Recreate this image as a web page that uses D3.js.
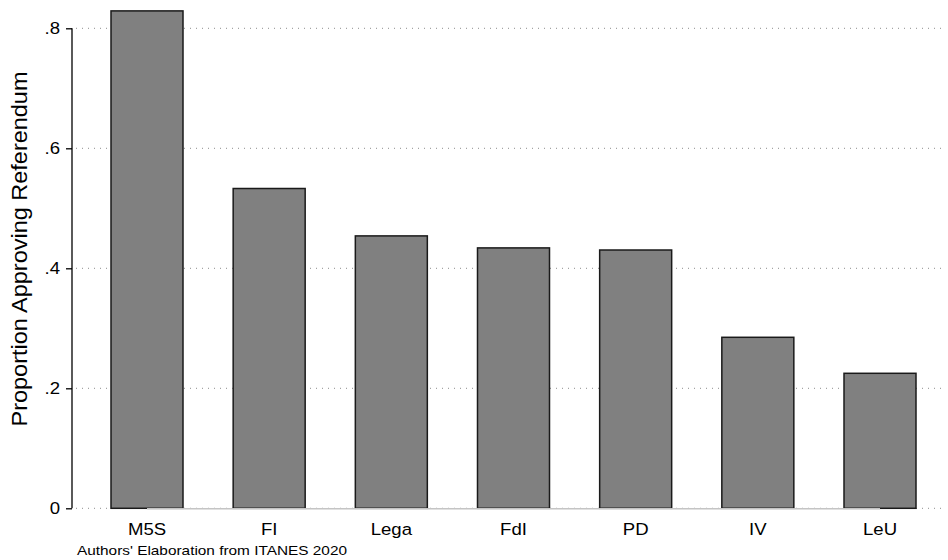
<!DOCTYPE html>
<html><head><meta charset="utf-8">
<script src="https://cdn.jsdelivr.net/npm/d3@7"></script>
<style>body{margin:0;background:#fff}svg{display:block}</style>
</head><body>
<svg id="c" width="948" height="560"></svg>
<script>
const categories = ["M5S","FI","Lega","FdI","PD","IV","LeU"];
const values = [0.829, 0.533, 0.454, 0.434, 0.4305, 0.285, 0.225];
const yTicks = [0, 0.2, 0.4, 0.6, 0.8];
const yTickLabels = ["0", ".2", ".4", ".6", ".8"];
const yTitle = "Proportion Approving Referendum";
const note = "Authors' Elaboration from ITANES 2020";

const svg = d3.select("#c");
const font = "'Liberation Sans', Arial, Helvetica, sans-serif";
const y = d3.scaleLinear().domain([0, 0.8]).range([508.3, 28.3]);
const x = d3.scalePoint().domain(categories).range([147, 880]);
const barW = 72;
const stretch = 1.14;

// gridlines
svg.append("g").selectAll("line").data(yTicks).join("line")
  .attr("x1", 76).attr("x2", 945)
  .attr("y1", d => y(d)).attr("y2", d => y(d))
  .attr("stroke", "#8c8c8c").attr("stroke-width", 1)
  .attr("stroke-dasharray", "1,5");

// bars
svg.append("g").selectAll("rect").data(values).join("rect")
  .attr("x", (d, i) => x(categories[i]) - barW / 2)
  .attr("width", barW)
  .attr("y", d => y(d))
  .attr("height", d => y(0) - y(d))
  .attr("fill", "#808080")
  .attr("stroke", "#1a1a1a")
  .attr("stroke-width", 1.5);

// x axis line (light gray, between first and last category)
svg.append("line")
  .attr("x1", x(categories[0])).attr("x2", x(categories[categories.length - 1]))
  .attr("y1", y(0) + 0.5).attr("y2", y(0) + 0.5)
  .attr("stroke", "#c4c4c4").attr("stroke-width", 1.5);

// x labels
svg.append("g").selectAll("text").data(categories).join("text")
  .attr("transform", d => `translate(${x(d)},534.5) scale(${stretch},1)`)
  .attr("text-anchor", "middle")
  .attr("font-family", font).attr("font-size", 16.3)
  .attr("fill", "#000")
  .text(d => d);

// y axis
const yAxis = d3.axisLeft(y).tickValues(yTicks).tickFormat("").tickSize(6);
const gy = svg.append("g").attr("transform", "translate(72,0)").call(yAxis);
gy.select(".domain").attr("stroke", "#000").attr("stroke-width", 1.3)
  .attr("d", `M0,${y(0.8)}V${y(0)}`);
gy.selectAll(".tick line").attr("stroke", "#000").attr("stroke-width", 1.3);
gy.selectAll(".tick text").remove();

svg.append("g").selectAll("text").data(yTicks).join("text")
  .attr("transform", d => `translate(60,${y(d) + 6}) scale(${stretch},1)`)
  .attr("text-anchor", "end")
  .attr("font-family", font).attr("font-size", 16.3)
  .attr("fill", "#000")
  .text((d, i) => yTickLabels[i]);

// y title
svg.append("text")
  .attr("transform", "translate(26.8,249) rotate(-90)")
  .attr("text-anchor", "middle")
  .attr("font-family", font).attr("font-size", 21.5)
  .attr("textLength", 355).attr("lengthAdjust", "spacingAndGlyphs")
  .attr("fill", "#000")
  .text(yTitle);

// note
svg.append("text")
  .attr("x", 77).attr("y", 555)
  .attr("font-family", font).attr("font-size", 12.6)
  .attr("textLength", 270).attr("lengthAdjust", "spacingAndGlyphs")
  .attr("fill", "#000")
  .text(note);
</script>
</body></html>
